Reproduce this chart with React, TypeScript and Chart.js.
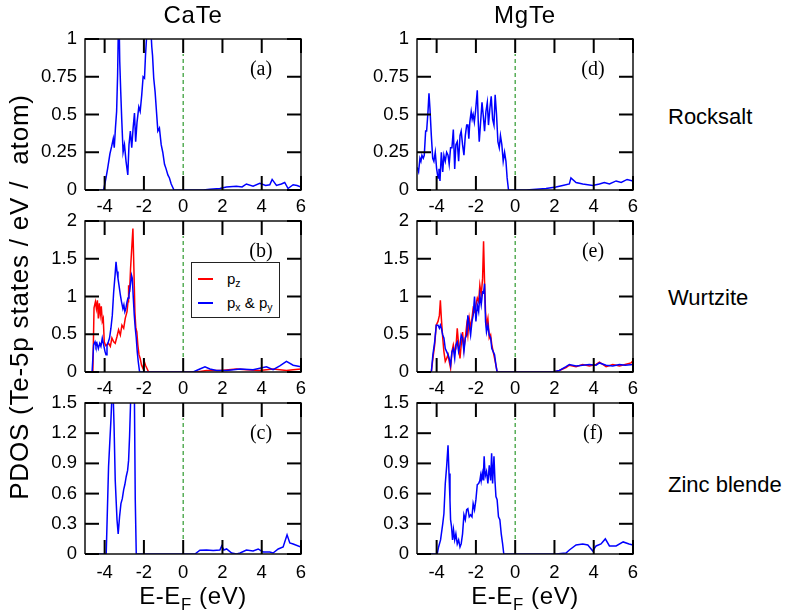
import React, { useEffect, useRef } from 'react';
import { Chart, registerables } from 'chart.js';
Chart.register(...registerables);

// ---------- data (energy in eV relative to E_F, PDOS in states/eV/atom) ----------
const xTicks = [-4, -2, 0, 2, 4, 6];
const yTicksRocksalt = [0, 0.25, 0.5, 0.75, 1];
const yTicksWurtzite = [0, 0.5, 1, 1.5, 2];
const yTicksZincBlende = [0, 0.3, 0.6, 0.9, 1.2, 1.5];
const fermiLevel = 0;
const xMin = -5;
const xMax = 6;

const compounds = ['CaTe', 'MgTe'];
const structures = ['Rocksalt', 'Wurtzite', 'Zinc blende'];
const panelTags = ['(a)', '(b)', '(c)', '(d)', '(e)', '(f)'];

const caTeRocksalt = [
  [-5, 0], [-4.05, 0], [-3.93, 0.08], [-3.85, 0.14], [-3.73, 0.24], [-3.64, 0.29], [-3.56, 0.34], [-3.51, 0.28],
  [-3.45, 0.41], [-3.39, 0.52], [-3.34, 0.76], [-3.28, 1.25], [-3.23, 0.85], [-3.18, 0.65], [-3.13, 0.47],
  [-3.06, 0.25], [-2.99, 0.30], [-2.91, 0.19], [-2.82, 0.10], [-2.76, 0.30], [-2.69, 0.39], [-2.62, 0.28],
  [-2.55, 0.41], [-2.48, 0.51], [-2.42, 0.32], [-2.35, 0.45], [-2.26, 0.55], [-2.19, 0.52], [-2.11, 0.63],
  [-2.04, 0.75], [-1.97, 0.74], [-1.92, 0.89], [-1.80, 1.15], [-1.70, 1.2], [-1.60, 0.95], [-1.56, 0.89],
  [-1.50, 0.74], [-1.43, 0.65], [-1.36, 0.52], [-1.29, 0.39], [-1.21, 0.41], [-1.12, 0.30], [-1.04, 0.25],
  [-0.95, 0.17], [-0.87, 0.14], [-0.78, 0.10], [-0.70, 0.08], [-0.61, 0.04], [-0.47, 0],
  [1.02, 0], [1.36, 0.005], [1.87, 0.01], [2.2, 0.02], [2.71, 0.025], [3.0, 0.02], [3.22, 0.04], [3.56, 0.025],
  [3.9, 0.045], [4.2, 0.03], [4.41, 0.035], [4.53, 0.07], [4.75, 0.03], [5.0, 0.04], [5.17, 0.05], [5.34, 0.01],
  [5.6, 0.035], [5.8, 0.03], [6.0, 0.02],
];

const caTeWurtzitePz = [
  [-5, 0], [-4.6, 0], [-4.54, 0.85], [-4.47, 0.93], [-4.42, 0.84], [-4.37, 0.95], [-4.32, 0.71], [-4.27, 0.91],
  [-4.22, 0.76], [-4.17, 0.87], [-4.12, 0.67], [-4.07, 0.71], [-4.02, 0.40], [-3.95, 0.35], [-3.88, 0.36],
  [-3.80, 0.38], [-3.71, 0.34], [-3.63, 0.45], [-3.54, 0.40], [-3.46, 0.38], [-3.37, 0.47], [-3.29, 0.56],
  [-3.20, 0.49], [-3.12, 0.62], [-3.03, 0.58], [-2.95, 0.71], [-2.86, 0.80], [-2.81, 0.93], [-2.78, 1.15],
  [-2.73, 1.06], [-2.68, 1.37], [-2.61, 1.68], [-2.56, 1.90], [-2.51, 1.37], [-2.46, 0.80], [-2.41, 0.58],
  [-2.36, 0.53], [-2.31, 0.36], [-2.25, 0.23], [-2.19, 0.18], [-2.12, 0.09], [-2.05, 0.05], [-1.98, 0.14],
  [-1.92, 0.09], [-1.85, 0.05], [-1.76, 0],
  [0.68, 0], [1.19, 0.02], [1.87, 0.02], [2.3, 0.03], [2.72, 0.04], [3.22, 0.03], [3.9, 0.02], [4.58, 0.04],
  [5.26, 0.02], [5.6, 0.03], [6.0, 0.04],
];

const caTeWurtzitePxPy = [
  [-5, 0], [-4.64, 0], [-4.56, 0.36], [-4.49, 0.40], [-4.44, 0.34], [-4.39, 0.38], [-4.32, 0.31], [-4.25, 0.38],
  [-4.19, 0.34], [-4.12, 0.45], [-4.05, 0.36], [-3.98, 0.27], [-3.93, 0.23], [-3.88, 0.36], [-3.81, 0.40],
  [-3.75, 0.45], [-3.68, 0.58], [-3.61, 0.75], [-3.54, 1.06], [-3.47, 1.28], [-3.42, 1.46], [-3.37, 1.33],
  [-3.32, 1.24], [-3.27, 1.15], [-3.20, 1.02], [-3.14, 0.93], [-3.07, 0.84], [-3.02, 0.89], [-2.97, 0.80],
  [-2.92, 0.84], [-2.86, 0.93], [-2.81, 0.98], [-2.76, 1.02], [-2.69, 1.15], [-2.63, 1.28], [-2.59, 1.24],
  [-2.54, 0.98], [-2.49, 0.75], [-2.44, 0.58], [-2.39, 0.45], [-2.34, 0.27], [-2.29, 0.14], [-2.22, 0],
  [0.51, 0], [0.85, 0.04], [1.11, 0.07], [1.36, 0.04], [1.7, 0.02], [2.21, 0.02], [2.9, 0.04], [3.56, 0.03],
  [4.24, 0.07], [4.58, 0.03], [4.92, 0.08], [5.26, 0.14], [5.6, 0.09], [6.0, 0.07],
];

const caTeZincBlende = [
  [-5, 0], [-3.92, 0], [-3.80, 0.87], [-3.68, 1.33], [-3.59, 1.75], [-3.52, 1.27], [-3.46, 0.73], [-3.37, 0.34],
  [-3.31, 0.20], [-3.24, 0.37], [-3.17, 0.50], [-3.10, 0.55], [-3.03, 0.64], [-2.97, 0.69], [-2.90, 0.77],
  [-2.83, 0.83], [-2.78, 0.93], [-2.73, 1.17], [-2.68, 1.5], [-2.62, 2.3], [-2.52, 2.4], [-2.44, 0.54], [-2.39, 0],
  [0.6, 0], [0.85, 0.037], [1.19, 0.04], [1.53, 0.035], [1.87, 0.04], [1.96, 0.08], [2.07, 0.04], [2.21, 0.05],
  [2.47, 0.01], [2.72, 0], [2.9, 0.01], [3.22, 0.04], [3.56, 0.03], [3.82, 0.05], [4.07, 0.02], [4.41, 0.02],
  [4.58, 0.01], [4.84, 0.05], [5.09, 0.07], [5.29, 0.19], [5.43, 0.11], [5.6, 0.10], [6.0, 0.07],
];

const mgTeRocksalt = [
  [-5, 0.15], [-4.92, 0.12], [-4.85, 0.21], [-4.80, 0.19], [-4.75, 0.23], [-4.68, 0.21], [-4.63, 0.23],
  [-4.56, 0.39], [-4.51, 0.39], [-4.44, 0.52], [-4.39, 0.64], [-4.34, 0.54], [-4.27, 0.36], [-4.20, 0.21],
  [-4.14, 0.19], [-4.07, 0.25], [-4.00, 0.14], [-3.93, 0.08], [-3.88, 0.14], [-3.83, 0.06], [-3.76, 0.25],
  [-3.69, 0.12], [-3.63, 0.23], [-3.56, 0.19], [-3.49, 0.25], [-3.42, 0.23], [-3.36, 0.17], [-3.29, 0.28],
  [-3.22, 0.28], [-3.15, 0.40], [-3.08, 0.14], [-3.02, 0.30], [-2.95, 0.32], [-2.88, 0.19], [-2.81, 0.36],
  [-2.75, 0.39], [-2.68, 0.30], [-2.61, 0.23], [-2.54, 0.36], [-2.47, 0.43], [-2.41, 0.43], [-2.36, 0.34],
  [-2.31, 0.45], [-2.24, 0.52], [-2.19, 0.47], [-2.14, 0.50], [-2.08, 0.45], [-2.02, 0.52], [-1.93, 0.66],
  [-1.88, 0.45], [-1.83, 0.32], [-1.76, 0.45], [-1.69, 0.58], [-1.63, 0.50], [-1.56, 0.39], [-1.49, 0.52],
  [-1.42, 0.58], [-1.36, 0.43], [-1.29, 0.54], [-1.22, 0.62], [-1.15, 0.47], [-1.08, 0.43], [-1.02, 0.63],
  [-0.95, 0.50], [-0.88, 0.32], [-0.81, 0.28], [-0.75, 0.36], [-0.68, 0.30], [-0.61, 0.19], [-0.54, 0.25],
  [-0.47, 0.19], [-0.41, 0.08], [-0.34, 0],
  [0.56, 0], [1.07, 0.005], [1.57, 0.01], [2.08, 0.02], [2.42, 0.03], [2.76, 0.04], [2.84, 0.08], [3.1, 0.05],
  [3.44, 0.04], [3.95, 0.03], [4.29, 0.04], [4.54, 0.05], [4.8, 0.04], [5.14, 0.06], [5.4, 0.05], [5.7, 0.07],
  [6.0, 0.06],
];

const mgTeWurtzitePz = [
  [-5, 0], [-4.27, 0], [-4.19, 0.18], [-4.10, 0.36], [-4.02, 0.62], [-3.93, 0.67], [-3.86, 0.75], [-3.81, 0.95],
  [-3.76, 0.71], [-3.69, 0.45], [-3.63, 0.27], [-3.56, 0.14], [-3.49, 0.18], [-3.42, 0.23], [-3.36, 0.14],
  [-3.29, 0.05], [-3.22, 0.27], [-3.15, 0.36], [-3.08, 0.27], [-3.02, 0.31], [-2.95, 0.58], [-2.88, 0.36],
  [-2.81, 0.18], [-2.75, 0.36], [-2.68, 0.53], [-2.61, 0.31], [-2.54, 0.45], [-2.47, 0.62], [-2.41, 0.49],
  [-2.34, 0.71], [-2.27, 0.58], [-2.20, 0.71], [-2.14, 0.84], [-2.07, 0.80], [-2.00, 0.89], [-1.93, 0.98],
  [-1.86, 0.93], [-1.80, 1.15], [-1.73, 1.02], [-1.66, 1.24], [-1.61, 1.73], [-1.56, 1.20], [-1.51, 0.80],
  [-1.46, 0.62], [-1.39, 0.71], [-1.32, 0.45], [-1.25, 0.49], [-1.19, 0.36], [-1.12, 0.27], [-1.05, 0.18],
  [-0.98, 0.09], [-0.92, 0],
  [1.91, 0], [2.25, 0.02], [2.59, 0.06], [2.76, 0.09], [3.1, 0.07], [3.44, 0.1], [3.78, 0.08], [4.12, 0.1],
  [4.29, 0.13], [4.63, 0.07], [4.97, 0.1], [5.31, 0.08], [5.6, 0.1], [5.9, 0.12], [6.0, 0.15],
];

const mgTeWurtzitePxPy = [
  [-5, 0], [-4.27, 0], [-4.19, 0.23], [-4.10, 0.40], [-4.02, 0.62], [-3.93, 0.62], [-3.86, 0.58], [-3.81, 0.62],
  [-3.76, 0.58], [-3.69, 0.49], [-3.63, 0.45], [-3.56, 0.31], [-3.49, 0.27], [-3.42, 0.23], [-3.36, 0.18],
  [-3.29, 0.09], [-3.22, 0.27], [-3.15, 0.31], [-3.08, 0.18], [-3.02, 0.36], [-2.95, 0.40], [-2.88, 0.27],
  [-2.81, 0.36], [-2.75, 0.49], [-2.68, 0.45], [-2.61, 0.27], [-2.54, 0.45], [-2.47, 0.49], [-2.41, 0.75],
  [-2.34, 0.62], [-2.27, 0.49], [-2.20, 0.67], [-2.14, 0.75], [-2.07, 1.0], [-2.00, 0.67], [-1.93, 0.89],
  [-1.86, 0.80], [-1.80, 1.02], [-1.73, 0.89], [-1.66, 1.06], [-1.61, 1.05], [-1.56, 1.17], [-1.51, 0.67],
  [-1.46, 0.53], [-1.39, 0.62], [-1.32, 0.49], [-1.25, 0.45], [-1.19, 0.31], [-1.12, 0.27], [-1.05, 0.23],
  [-0.98, 0.09], [-0.92, 0],
  [1.91, 0], [2.25, 0.02], [2.59, 0.07], [2.76, 0.1], [3.1, 0.08], [3.44, 0.09], [3.78, 0.1], [4.12, 0.09],
  [4.29, 0.12], [4.63, 0.09], [4.97, 0.08], [5.31, 0.1], [5.6, 0.09], [6.0, 0.1],
];

const mgTeZincBlende = [
  [-5, 0], [-3.97, 0], [-3.90, 0.07], [-3.80, 0.14], [-3.69, 0.30], [-3.63, 0.40], [-3.56, 0.70], [-3.49, 0.87],
  [-3.42, 1.08], [-3.37, 0.80], [-3.32, 0.53], [-3.29, 0.34], [-3.24, 0.27], [-3.19, 0.14], [-3.14, 0.24],
  [-3.08, 0.14], [-3.02, 0.20], [-2.95, 0.10], [-2.88, 0.14], [-2.81, 0.07], [-2.75, 0.10], [-2.68, 0.20],
  [-2.61, 0.39], [-2.54, 0.34], [-2.47, 0.44], [-2.41, 0.45], [-2.34, 0.37], [-2.27, 0.39], [-2.20, 0.37],
  [-2.14, 0.50], [-2.07, 0.44], [-2.00, 0.54], [-1.93, 0.69], [-1.86, 0.70], [-1.80, 0.73], [-1.76, 0.78],
  [-1.73, 0.73], [-1.68, 0.80], [-1.63, 0.73], [-1.58, 0.97], [-1.53, 0.77], [-1.46, 0.82], [-1.39, 0.70],
  [-1.32, 0.88], [-1.25, 0.73], [-1.20, 1.00], [-1.15, 0.70], [-1.08, 0.97], [-1.03, 0.73], [-0.98, 0.57],
  [-0.92, 0.54], [-0.85, 0.37], [-0.78, 0.34], [-0.71, 0.20], [-0.64, 0.10], [-0.58, 0],
  [2.08, 0], [2.59, 0.01], [2.76, 0.04], [3.1, 0.09], [3.44, 0.1], [3.7, 0.09], [3.95, 0.03], [4.12, 0.08],
  [4.37, 0.1], [4.59, 0.15], [4.8, 0.08], [5.14, 0.08], [5.5, 0.12], [5.8, 0.1], [6.0, 0.09],
];

// ---------- styling / layout ----------
const BLUE = '#0000ff';
const RED = '#ff0000';
const GREEN = '#2e9a2e';
const SANS = '"Liberation Sans", Arial, Helvetica, sans-serif';
const SERIF = '"Liberation Serif", "Times New Roman", serif';

const PLOT_W = 216;
const PLOT_H = 151;
const AX_W = 60;
const PAD_T = 22;
const PAD_R = 14;
const AX_H = 34;
const COL_LEFT = [85, 417];
const ROW_TOP = [39, 221, 403];
const TICK_LEN = 14;

type Series = { pts: number[][]; color: string };

// frame + inward tick marks, built from the tick arrays and drawn through the chart's own scales
function axisDecorations(yMax: number, yTicks: number[]) {
  const dy = (TICK_LEN / PLOT_H) * yMax;
  const dx = (TICK_LEN / PLOT_W) * (xMax - xMin);
  const out: any[] = [];
  const seg = (a: { x: number; y: number }, b: { x: number; y: number }) =>
    out.push({
      data: [a, b],
      borderColor: '#000',
      borderWidth: 2,
      pointRadius: 0,
      clip: false,
      fill: false,
      tension: 0,
    });
  xTicks.forEach((v) => {
    seg({ x: v, y: 0 }, { x: v, y: dy });
    seg({ x: v, y: yMax - dy }, { x: v, y: yMax });
  });
  yTicks.forEach((v) => {
    seg({ x: xMin, y: v }, { x: xMin + dx, y: v });
    seg({ x: xMax - dx, y: v }, { x: xMax, y: v });
  });
  out.push({
    data: [
      { x: xMin, y: 0 }, { x: xMax, y: 0 }, { x: xMax, y: yMax }, { x: xMin, y: yMax }, { x: xMin, y: 0 },
    ],
    borderColor: '#111',
    borderWidth: 1.5,
    pointRadius: 0,
    clip: false,
    fill: false,
    tension: 0,
  });
  return out;
}

const tagPlugin = {
  id: 'panelTag',
  afterDraw(chart: any) {
    const ctx = chart.ctx as CanvasRenderingContext2D;
    const area = chart.chartArea;
    const opts = chart.options.plugins.panelTag || {};
    if (!opts.tag) return;
    ctx.save();
    ctx.fillStyle = '#000';
    ctx.font = `20px ${SERIF}`;
    ctx.textAlign = 'center';
    ctx.textBaseline = 'middle';
    ctx.fillText(opts.tag, area.right - 40, area.top + 31);
    ctx.restore();
  },
};

function Panel(props: {
  col: number;
  row: number;
  yMax: number;
  yTicks: number[];
  series: Series[];
  tag: string;
  xPad: number;
}) {
  const ref = useRef<HTMLCanvasElement>(null);
  const { col, row, yMax, yTicks, series, tag, xPad } = props;
  const cw = AX_W + PLOT_W + PAD_R;
  const chh = PAD_T + PLOT_H + AX_H;
  useEffect(() => {
    const datasets: any[] = axisDecorations(yMax, yTicks);
    series.forEach((s) =>
      datasets.push({
        data: s.pts.map(([x, y]) => ({ x, y })),
        borderColor: s.color,
        borderWidth: 1.5,
        pointRadius: 0,
        tension: 0,
        fill: false,
      })
    );
    datasets.push({
      data: [
        { x: fermiLevel, y: yMax * 0.1 },
        { x: fermiLevel, y: yMax * 0.9 },
      ],
      borderColor: GREEN,
      borderWidth: 1.2,
      borderDash: [4, 3],
      pointRadius: 0,
      fill: false,
    });
    const chart = new Chart(ref.current as HTMLCanvasElement, {
      type: 'line',
      data: { datasets },
      plugins: [tagPlugin],
      options: {
        animation: false,
        responsive: false,
        maintainAspectRatio: false,
        devicePixelRatio: 1,
        layout: { padding: { left: 0, top: PAD_T, right: PAD_R, bottom: 0 } },
        plugins: {
          legend: { display: false },
          tooltip: { enabled: false },
          panelTag: { tag },
        } as any,
        scales: {
          x: {
            type: 'linear',
            min: xMin,
            max: xMax,
            afterBuildTicks: (axis: any) => {
              axis.ticks = xTicks.map((v) => ({ value: v }));
            },
            afterFit: (axis: any) => {
              axis.height = AX_H;
            },
            grid: { display: false, drawTicks: false },
            border: { display: false },
            ticks: {
              color: '#000',
              padding: xPad,
              maxRotation: 0,
              font: { family: SANS, size: 18.5 },
              callback: (v: any) => String(v),
            },
          },
          y: {
            type: 'linear',
            min: 0,
            max: yMax,
            afterBuildTicks: (axis: any) => {
              axis.ticks = yTicks.map((v) => ({ value: v }));
            },
            afterFit: (axis: any) => {
              axis.width = AX_W;
            },
            grid: { display: false, drawTicks: false },
            border: { display: false },
            ticks: {
              color: '#000',
              padding: 8,
              font: { family: SANS, size: 18.5 },
              callback: (v: any) => String(v),
            },
          },
        },
      } as any,
    });
    return () => chart.destroy();
  }, []);
  return (
    <canvas
      ref={ref}
      width={cw}
      height={chh}
      style={{
        position: 'absolute',
        left: COL_LEFT[col] - AX_W,
        top: ROW_TOP[row] - PAD_T,
        width: cw,
        height: chh,
        display: 'block',
      }}
    />
  );
}

const textBase: React.CSSProperties = {
  position: 'absolute',
  fontFamily: SANS,
  color: '#000',
  lineHeight: 1,
  whiteSpace: 'nowrap',
};

export default function App() {
  const panels = [
    { col: 0, row: 0, yMax: 1, yTicks: yTicksRocksalt, series: [{ pts: caTeRocksalt, color: BLUE }], xPad: 6 },
    {
      col: 0, row: 1, yMax: 2, yTicks: yTicksWurtzite,
      series: [{ pts: caTeWurtzitePxPy, color: BLUE }, { pts: caTeWurtzitePz, color: RED }], xPad: 6,
    },
    { col: 0, row: 2, yMax: 1.5, yTicks: yTicksZincBlende, series: [{ pts: caTeZincBlende, color: BLUE }], xPad: 8 },
    { col: 1, row: 0, yMax: 1, yTicks: yTicksRocksalt, series: [{ pts: mgTeRocksalt, color: BLUE }], xPad: 6 },
    {
      col: 1, row: 1, yMax: 2, yTicks: yTicksWurtzite,
      series: [{ pts: mgTeWurtzitePxPy, color: BLUE }, { pts: mgTeWurtzitePz, color: RED }], xPad: 6,
    },
    { col: 1, row: 2, yMax: 1.5, yTicks: yTicksZincBlende, series: [{ pts: mgTeZincBlende, color: BLUE }], xPad: 8 },
  ];
  const colCenter = COL_LEFT.map((l) => l + PLOT_W / 2);
  const rowLabelY = [106, 287, 474];
  return (
    <div style={{ position: 'fixed', left: 0, top: 0, width: 787, height: 613, background: '#fff', overflow: 'hidden' }}>
      {panels.map((p, i) => (
        <Panel key={i} {...p} tag={panelTags[i]} />
      ))}
      {compounds.map((c, i) => (
        <div
          key={c}
          style={{ ...textBase, fontSize: 24, letterSpacing: 0.8, left: colCenter[i] - 100, width: 200, textAlign: 'center', top: 3 }}
        >
          {c}
        </div>
      ))}
      {structures.map((s, i) => (
        <div key={s} style={{ ...textBase, fontSize: 22, left: 668, top: rowLabelY[i] }}>
          {s}
        </div>
      ))}
      {colCenter.map((cx, i) => (
        <div
          key={'xt' + i}
          style={{ ...textBase, fontSize: 24, letterSpacing: 0.6, left: cx - 100, width: 200, textAlign: 'center', top: 584 }}
        >
          E-E<span style={{ fontSize: '0.7em', verticalAlign: '-0.35em' }}>F</span> (eV)
        </div>
      ))}
      <div
        style={{
          ...textBase,
          fontSize: 26,
          letterSpacing: 0.8,
          left: 19 - 260,
          top: 297 - 15,
          width: 520,
          height: 30,
          lineHeight: '30px',
          textAlign: 'center',
          transform: 'rotate(-90deg)',
          whiteSpace: 'pre',
        }}
      >
        {'PDOS (Te-5p states / eV /  atom)'}
      </div>
      {/* legend of panel (b) */}
      <div
        style={{
          position: 'absolute',
          left: 191,
          top: 262,
          width: 89,
          height: 56,
          border: '1.3px solid #222',
          background: '#fff',
          boxSizing: 'border-box',
        }}
      >
        <div style={{ position: 'absolute', left: 6, top: 15, width: 15, height: 1.5, background: RED }} />
        <div style={{ ...textBase, fontSize: 15, left: 35, top: 8 }}>
          p<span style={{ fontSize: '0.7em', verticalAlign: '-0.3em' }}>z</span>
        </div>
        <div style={{ position: 'absolute', left: 6, top: 39, width: 15, height: 1.5, background: BLUE }} />
        <div style={{ ...textBase, fontSize: 15, left: 35, top: 32 }}>
          p<span style={{ fontSize: '0.7em', verticalAlign: '-0.3em' }}>x</span> &amp; p
          <span style={{ fontSize: '0.7em', verticalAlign: '-0.3em' }}>y</span>
        </div>
      </div>
    </div>
  );
}
